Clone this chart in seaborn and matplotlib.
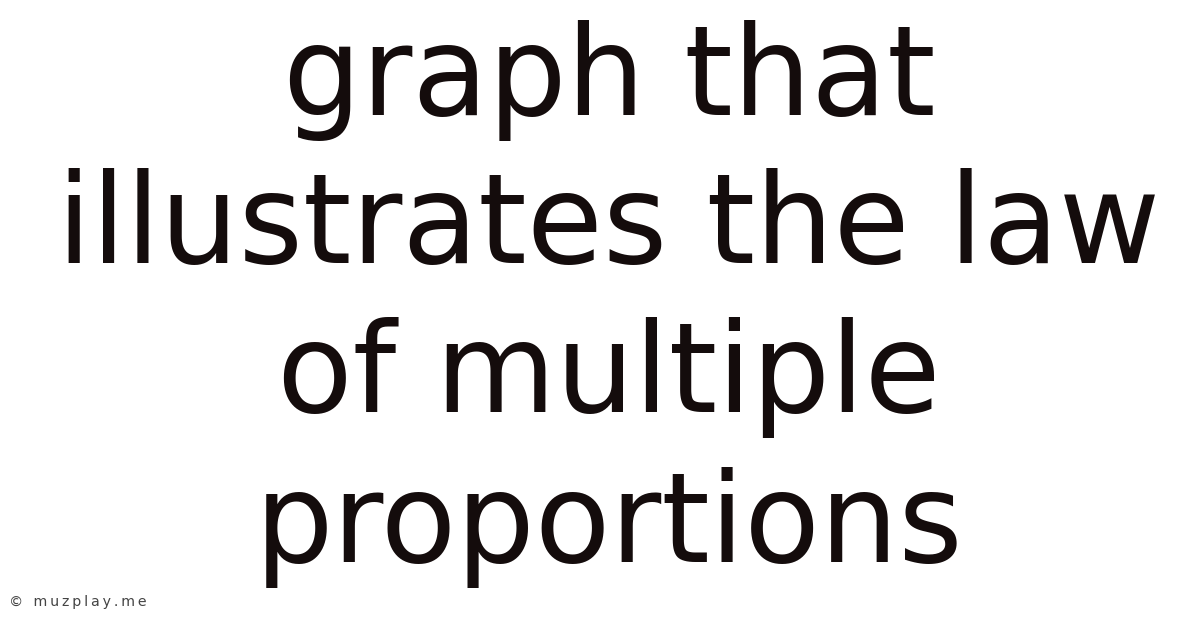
import matplotlib
matplotlib.use("Agg")
import matplotlib.pyplot as plt
import seaborn as sns

title_lines = ["graph that", "illustrates the law", "of multiple", "proportions"]
line_baselines = [115, 263, 412, 562]  # pixel rows of each baseline, from top
watermark = "© muzplay.me"

sns.set_theme(style="white")
plt.rcParams["font.family"] = ["DejaVu Sans"]

W, H = 1200, 628
fig = plt.figure(figsize=(W / 100, H / 100), dpi=100)
fig.patch.set_facecolor("white")
ax = fig.add_axes([0, 0, 1, 1])
ax.set_axis_off()
ax.set_xlim(0, W)
ax.set_ylim(H, 0)

for txt, yb in zip(title_lines, line_baselines):
    ax.text(609, yb, txt, ha="center", va="baseline",
            fontsize=89, color="#140c0c")

# watermark is letter-spaced in the reference, use thin spaces between chars
spaced = "\u2009".join(watermark)
ax.text(9, 606, spaced, ha="left", va="baseline", fontsize=10.2,
        color="#444444", fontweight="medium")

fig.savefig("out.png", dpi=100, facecolor="white")
